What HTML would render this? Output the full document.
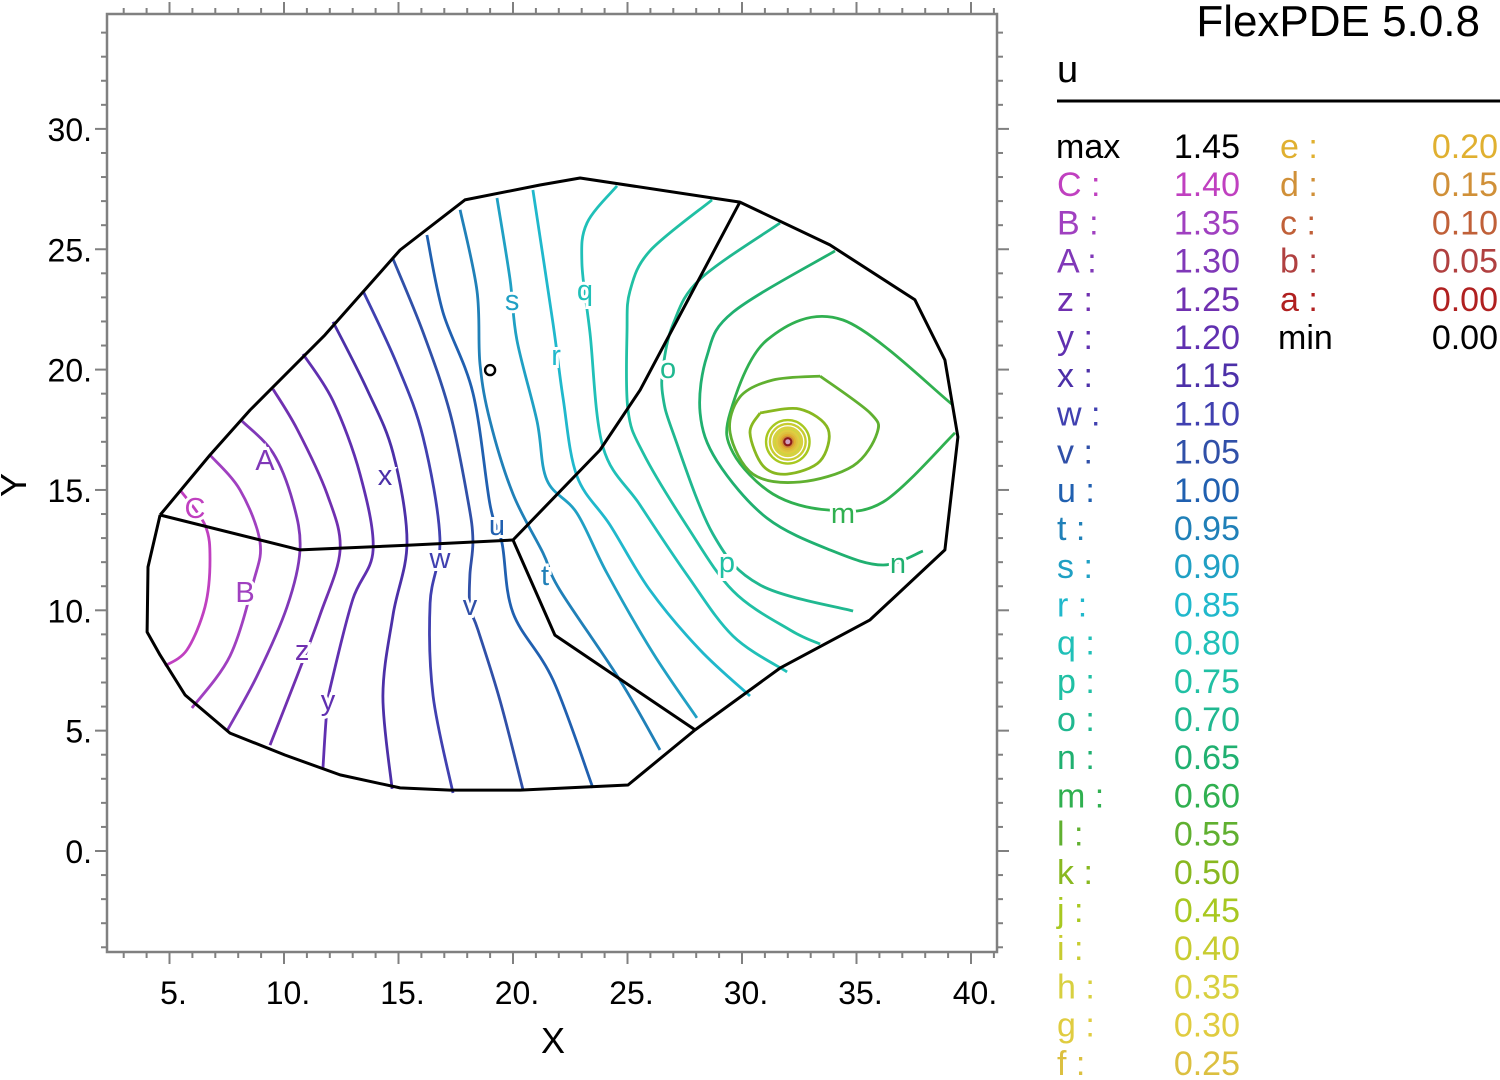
<!DOCTYPE html>
<html><head><meta charset="utf-8">
<style>
html,body{margin:0;padding:0;background:#fff;}
svg{display:block;font-family:"Liberation Sans",Arial,sans-serif;}
</style></head>
<body>
<svg id="chart" width="1500" height="1080" viewBox="0 0 1500 1080" xmlns="http://www.w3.org/2000/svg">
  <rect x="0" y="0" width="1500" height="1080" fill="#fff"/>
  <g id="plot"></g>
  <g id="axes"></g>
  <text x="553" y="1053" font-size="36" text-anchor="middle">X</text>
  <text x="0" y="0" font-size="36" text-anchor="middle" transform="translate(26,485) rotate(-90)">Y</text>
  <text x="1480" y="36" font-size="44" text-anchor="end">FlexPDE 5.0.8</text>
  <text x="1057" y="82" font-size="38">u</text>
  <line x1="1057" y1="101" x2="1500" y2="101" stroke="#000" stroke-width="3"/>
  <g id="legend"></g>
</svg>
<script>
// ---- data ----
const xTicks = [5, 10, 15, 20, 25, 30, 35, 40];
const yTicks = [0, 5, 10, 15, 20, 25, 30];
const levelCodes = ['C','B','A','z','y','x','w','v','u','t','s','r','q','p','o','n','m','l','k','j','i','h','g','f','e','d','c','b','a'];
const levelValues = [1.40,1.35,1.30,1.25,1.20,1.15,1.10,1.05,1.00,0.95,0.90,0.85,0.80,0.75,0.70,0.65,0.60,0.55,0.50,0.45,0.40,0.35,0.30,0.25,0.20,0.15,0.10,0.05,0.00];
const levelColors = ['#c040c0','#a040c0','#8038b8','#7030b0','#6030b0','#4c30a8','#4040b0','#3050a8','#2060b0','#2080b8','#20a0c4','#20b8cc','#20c0b8','#20c0a4','#20b890','#20b070','#30b050','#60b030','#88b820','#a8c820','#c8cc30','#d8d040','#e0cc40','#dcc040','#e0b030','#d09038','#c06038','#b04040','#b02020'];
const maxValue = 1.45, minValue = 0.00;

const boundary = [[4.59,13.96],[6.77,16.45],[8.52,18.32],[11.79,21.44],[15.07,24.97],[17.90,27.05],[21.18,27.67],[22.93,27.96],[29.91,26.96],[33.84,25.18],[37.55,22.90],[38.86,20.40],[39.43,17.20],[38.86,12.51],[35.59,9.60],[31.66,7.60],[27.95,5.03],[25.02,2.74],[20.31,2.53],[17.25,2.53],[15.07,2.62],[12.45,3.16],[10.04,3.99],[7.64,4.90],[5.68,6.48],[4.59,8.14],[4.02,9.10],[4.06,11.80],[4.59,13.96]];
const regionLineA = [[4.59,13.96],[10.70,12.51],[15.50,12.71],[20.0,12.92]];
const regionLineB = [[20.0,12.92],[23.80,16.66],[25.55,19.15],[29.91,26.96]];
const regionLineC = [[20.0,12.92],[21.83,8.97],[27.95,5.03]];

const contourC = [[5.46,15.0],[6.55,13.54],[6.77,12.09],[6.55,10.14],[5.76,8.35],[4.80,7.69]];
const contourB = [[6.77,16.45],[8.08,15.0],[8.95,12.84],[8.65,11.13],[7.64,8.10],[5.98,5.94]];
const contourA = [[8.17,17.86],[9.52,16.54],[10.39,14.50],[10.70,12.51],[10.13,10.14],[8.82,7.27],[7.51,4.99]];
const contourZ = [[9.52,19.19],[10.57,17.53],[11.88,14.83],[12.45,12.51],[11.57,9.80],[10.57,7.27],[9.39,4.40]];
const contourY = [[10.83,20.65],[12.14,18.70],[13.32,15.66],[13.89,12.51],[13.01,10.47],[12.14,7.27],[11.88,5.94],[11.70,3.41]];
const contourX = [[12.14,21.98],[13.62,19.19],[14.76,16.54],[15.37,12.84],[14.76,9.80],[14.32,6.44],[14.72,2.58]];
const contourW = [[13.45,23.27],[14.93,20.23],[16.07,17.20],[16.81,13.0],[16.38,10.30],[16.51,6.44],[17.38,2.41]];
const contourV = [[14.76,24.60],[16.07,21.56],[17.25,18.20],[18.03,14.58],[18.25,12.92],[18.12,11.47],[18.12,10.14],[18.47,9.18],[19.43,6.27],[20.44,2.53]];
const contourU = [[16.24,25.59],[16.94,22.39],[18.25,19.03],[19.0,14.37],[19.52,12.80],[20.0,9.89],[21.75,7.10],[23.49,2.62]];
const contourT = [[17.69,26.64],[18.43,23.27],[18.56,20.23],[19.0,17.86],[20.0,14.83],[21.31,12.38],[22.05,10.84],[24.67,7.10],[26.42,4.20]];
const contourS = [[19.30,27.13],[19.87,23.76],[20.17,21.23],[21.05,17.86],[21.48,15.41],[22.79,14.04],[24.10,11.55],[26.11,8.23],[28.03,5.53]];
const contourR = [[20.87,27.46],[21.75,21.89],[22.18,18.86],[22.79,15.58],[24.24,13.54],[25.98,10.84],[28.17,8.35],[30.35,6.44]];
const contourQ = [[24.54,27.63],[23.23,26.09],[23.01,24.43],[23.36,21.56],[23.93,16.78],[25.55,14.37],[27.60,11.47],[29.61,8.93],[31.97,7.44]];
const contourP = [[28.69,27.05],[25.98,24.93],[25.11,23.27],[24.98,21.56],[25.02,18.32],[25.68,16.54],[27.60,13.50],[29.61,10.80],[32.10,9.18],[33.41,8.60]];
const contourO = [[31.66,26.09],[28.17,23.76],[26.99,21.89],[26.55,20.07],[26.55,18.86],[26.99,17.37],[28.73,13.17],[30.79,11.05],[34.85,9.97]];
const contourN = [[34.06,24.93],[29.61,22.39],[28.47,20.57],[28.17,18.20],[28.91,16.20],[31.09,13.83],[33.97,12.46],[36.16,11.88],[37.90,12.46]];
const contourM = [[39.21,18.53],[34.41,22.06],[31.09,21.23],[29.48,18.20],[29.61,16.54],[31.35,14.83],[33.71,14.17],[36.16,14.50],[39.30,17.37]];
const contourL = [[33.41,19.73],[35.59,18.20],[35.90,17.37],[34.85,16.0],[32.53,15.33],[30.48,15.66],[29.48,17.37],[29.91,18.86],[31.35,19.57],[33.41,19.73]];
const contourK = [[30.79,18.20],[32.53,18.36],[33.76,17.53],[33.41,16.20],[31.97,15.66],[30.92,16.0],[30.35,17.37],[30.79,18.20]];
const peakCenter = [32.0, 17.0];
const ringCodes = ['j','i','h','g','f','e','d','c','b'];
const ringRadii = [0.95, 0.78, 0.62, 0.48, 0.38, 0.30, 0.22, 0.16, 0.10];
const markerPoint = [19.0, 19.98];

const contourSets = [contourC,contourB,contourA,contourZ,contourY,contourX,contourW,contourV,contourU,contourT,contourS,contourR,contourQ,contourP,contourO,contourN,contourM,contourL,contourK];
const labelCodes = ['C','B','A','z','y','x','w','v','u','t','s','r','q','p','o','n','m'];
const labelPos = [[6.11,14.25],[8.30,10.76],[9.17,16.24],[10.79,8.35],[11.92,6.27],[14.41,15.62],[16.81,12.17],[18.12,10.22],[19.30,13.54],[21.40,11.47],[19.96,22.89],[21.88,20.61],[23.14,23.31],[29.34,12.0],[26.77,20.07],[36.81,11.96],[34.41,14.04]];

// ---- axis functions ----
const X0 = 55, XS = 22.9, Y0 = 851, YS = 24.07;
const sx = v => X0 + v * XS;
const sy = v => Y0 - v * YS;
const FL = 107, FR = 997, FT = 14, FB = 952;
const NS = 'http://www.w3.org/2000/svg';
function mk(tag, attrs, parent) {
  const e = document.createElementNS(NS, tag);
  for (const k in attrs) e.setAttribute(k, attrs[k]);
  parent.appendChild(e);
  return e;
}
const pathOf = pts => pts.map((p, i) => (i ? 'L' : 'M') + sx(p[0]).toFixed(1) + ',' + sy(p[1]).toFixed(1)).join(' ');
function smoothPath(pts) {
  let d = 'M' + sx(pts[0][0]).toFixed(1) + ',' + sy(pts[0][1]).toFixed(1);
  for (let i = 0; i < pts.length - 1; i++) {
    const p0 = pts[Math.max(0, i - 1)], p1 = pts[i], p2 = pts[i + 1], p3 = pts[Math.min(pts.length - 1, i + 2)];
    const c1x = sx(p1[0]) + (sx(p2[0]) - sx(p0[0])) / 6, c1y = sy(p1[1]) + (sy(p2[1]) - sy(p0[1])) / 6;
    const c2x = sx(p2[0]) - (sx(p3[0]) - sx(p1[0])) / 6, c2y = sy(p2[1]) - (sy(p3[1]) - sy(p1[1])) / 6;
    d += ' C' + c1x.toFixed(1) + ',' + c1y.toFixed(1) + ' ' + c2x.toFixed(1) + ',' + c2y.toFixed(1) + ' ' + sx(p2[0]).toFixed(1) + ',' + sy(p2[1]).toFixed(1);
  }
  return d;
}
const colorOf = code => levelColors[levelCodes.indexOf(code)];

const plot = document.getElementById('plot');
const axes = document.getElementById('axes');

// contours
contourSets.forEach((pts, i) => {
  const p = mk('path', {d: smoothPath(pts), fill: 'none', stroke: levelColors[i], 'stroke-width': 2.8}, plot);
  
  
});
// peak rings
const blob = mk('circle', {cx: sx(peakCenter[0]), cy: sy(peakCenter[1]), r: ringRadii[2] * XS, fill: '#c0d020', opacity: 0.85}, plot);


ringRadii.forEach((r, i) => {
  const c = mk('ellipse', {cx: sx(peakCenter[0]), cy: sy(peakCenter[1]), rx: r * XS, ry: r * YS * 0.95, fill: 'none', stroke: colorOf(ringCodes[i]), 'stroke-width': 2.4}, plot);
  
  
});
const pk = mk('circle', {cx: sx(peakCenter[0]), cy: sy(peakCenter[1]), r: 3.5, fill: '#d0a0c0', stroke: '#8b1a1a', 'stroke-width': 2}, plot);



// boundary & region lines
[[boundary, 'domain-boundary'], [regionLineA, 'region-line-a'], [regionLineB, 'region-line-b'], [regionLineC, 'region-line-c']].forEach(([pts, nm]) => {
  const p = mk('path', {d: pathOf(pts), fill: 'none', stroke: '#000', 'stroke-width': 3, 'stroke-linejoin': 'round'}, plot);
  
  
});
const mkr = mk('circle', {cx: sx(markerPoint[0]), cy: sy(markerPoint[1]), r: 5, fill: 'none', stroke: '#000', 'stroke-width': 2.4}, plot);



// contour labels
labelCodes.forEach((c, i) => {
  const t = mk('text', {x: sx(labelPos[i][0]), y: sy(labelPos[i][1]) + 10, 'font-size': 29, 'text-anchor': 'middle', fill: colorOf(c), stroke: '#fff', 'stroke-width': 6, 'paint-order': 'stroke'}, plot);
  t.textContent = c;
  
  
});

// frame
const fr = mk('rect', {x: FL, y: FT, width: FR - FL, height: FB - FT, fill: 'none', stroke: '#808080', 'stroke-width': 2.5}, axes);


for (let v = 3; v <= 41; v++) {
  const major = xTicks.includes(v), L = major ? 12 : 6, x = sx(v);
  const t1 = mk('line', {x1: x, y1: FB, x2: x, y2: FB + L, stroke: '#808080', 'stroke-width': 2}, axes);
  
  
  const t2 = mk('line', {x1: x, y1: FT, x2: x, y2: FT - L, stroke: '#808080', 'stroke-width': 2}, axes);
  
  
}
for (let v = -4; v <= 34; v++) {
  const major = yTicks.includes(v), L = major ? 12 : 6, y = sy(v);
  const t1 = mk('line', {x1: FL, y1: y, x2: FL - L, y2: y, stroke: '#808080', 'stroke-width': 2}, axes);
  
  
  const t2 = mk('line', {x1: FR, y1: y, x2: FR + L, y2: y, stroke: '#808080', 'stroke-width': 2}, axes);
  
  
}
xTicks.forEach(v => {
  const t = mk('text', {x: sx(v) + 4, y: 1004, 'font-size': 32, 'text-anchor': 'middle'}, axes);
  t.textContent = v + '.';
  
  
});
yTicks.forEach(v => {
  const t = mk('text', {x: 92, y: sy(v) + 12, 'font-size': 32, 'text-anchor': 'end'}, axes);
  t.textContent = v + '.';
  
  
});

// legend
const legend = document.getElementById('legend');
const ROW0 = 158, ROWH = 38.2;
function legendRow(colX, valX, row, code, val, color, sep) {
  const a = mk('text', {x: colX, y: ROW0 + row * ROWH, 'font-size': 34, fill: color}, legend);
  a.textContent = code + (sep ? ' :' : '');
  
  
  const b = mk('text', {x: valX, y: ROW0 + row * ROWH, 'font-size': 34, fill: color, 'text-anchor': 'end'}, legend);
  b.textContent = val.toFixed(2);
  
  
}
legendRow(1056, 1240, 0, 'max', maxValue, '#000', false);
levelCodes.forEach((c, i) => {
  if (i < 24) legendRow(1057, 1240, i + 1, c, levelValues[i], levelColors[i], true);
  else legendRow(1280, 1498, i - 24, c, levelValues[i], levelColors[i], true);
});
legendRow(1278, 1498, 5, 'min', minValue, '#000', false);
</script>
</body></html>
